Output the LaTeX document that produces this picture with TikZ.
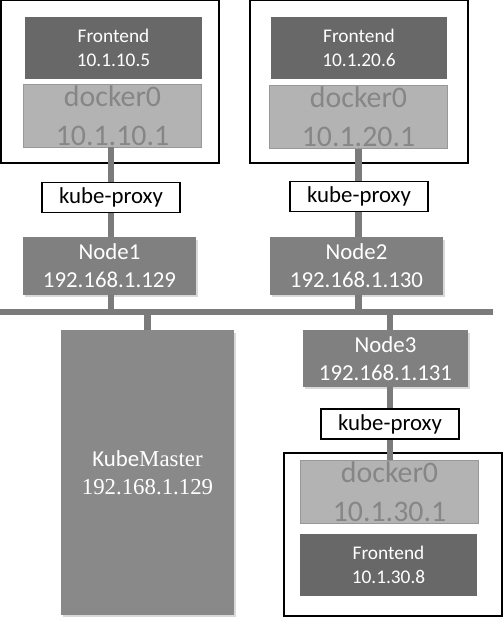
\documentclass[tikz,border=0pt]{standalone}
\usepackage{fontspec}
\setmainfont{Carlito}
\newfontfamily\masterfont{Liberation Serif}
\usetikzlibrary{shadows}
\definecolor{frontgray}{HTML}{686868}
\definecolor{dockergray}{HTML}{B3B3B3}
\definecolor{dockertext}{HTML}{868686}
\definecolor{nodegray}{HTML}{808080}
\definecolor{mastergray}{HTML}{898989}
\definecolor{linkgray}{HTML}{7B7B7B}

\begin{document}
\begin{tikzpicture}[
    x=0.02cm, y=-0.02cm,
    host/.style={draw, line width=0.6pt, inner sep=0pt,
                 minimum width=4.36cm, minimum height=3.26cm},
    front/.style={fill=frontgray, text=white, inner sep=0pt,
                  minimum width=3.54cm, minimum height=1.24cm,
                  align=center, font=\fontsize{11}{14}\selectfont},
    docker/.style={fill=dockergray, draw=dockergray!85!black, line width=0.3pt,
                   text=dockertext, inner sep=0pt,
                   minimum width=3.56cm, minimum height=1.26cm,
                   align=center, font=\fontsize{17}{22}\selectfont},
    proxy/.style={draw, fill=white, line width=0.9pt, inner sep=0pt,
                  minimum width=2.76cm, minimum height=0.6cm,
                  font=\fontsize{13}{15}\selectfont},
    kube/.style={fill=nodegray, text=white, inner sep=0pt,
                 minimum width=3.46cm, minimum height=1.16cm,
                 align=center, font=\fontsize{13}{16}\selectfont,
                 drop shadow={shadow xshift=0.04cm, shadow yshift=-0.05cm,
                              opacity=0.3}},
    link/.style={linkgray, line width=3.8pt},
  ]
  \useasboundingbox (0,0) rectangle (503,622);

  % Host boxes
  \node[host] (host1) at (110,81.5) {};
  \node[host] (host2) at (359,81.5) {};
  \node[host] (host3) at (393,534.5) {};

  % Host 1
  \node[front] (front1) at (113.5,48) {Frontend\\10.1.10.5};
  \node[docker] (dock1) at (112.5,115.5) {docker0\\10.1.10.1};
  \node[proxy] (proxy1) at (111,197.5) {kube-proxy};
  \node[kube] (node1) at (109.5,266) {Node1\\192.168.1.129};

  % Host 2
  \node[front] (front2) at (359,48) {Frontend\\10.1.20.6};
  \node[docker] (dock2) at (358.5,117) {docker0\\10.1.20.1};
  \node[proxy] (proxy2) at (359,196.5) {kube-proxy};
  \node[kube] (node2) at (356.5,266) {Node2\\192.168.1.130};

  % Bus
  \coordinate (busL) at (0,312);
  \coordinate (busR) at (493,312);
  \draw[linkgray, line width=3.2pt] (busL) -- (busR);

  % Master
  \node[kube, fill=mastergray, minimum width=3.46cm, minimum height=5.7cm] (master) at (147.5,472.5)
       {Kube{\masterfont Master}\\{\masterfont 192.168.1.129}};

  % Host 3
  \node[kube, minimum width=3.3cm, minimum height=1.14cm] (node3) at (385.5,358.5)
       {Node3\\192.168.1.131};
  \node[proxy] (proxy3) at (390,424) {kube-proxy};
  \node[docker] (dock3) at (389.5,491.5) {docker0\\10.1.30.1};
  \node[front] (front3) at (388.5,565) {Frontend\\10.1.30.8};

  % Links
  \draw[link] (dock1.south -| proxy1) -- (proxy1.north);
  \draw[link] (proxy1.south) -- (node1.north -| proxy1);
  \draw[link] (node1.south -| proxy1) -- (busL -| proxy1);
  \draw[link] (dock2.south) -- (proxy2.north -| dock2);
  \draw[link] (proxy2.south -| dock2) -- (node2.north -| dock2);
  \draw[link] (node2.south -| dock2) -- (busL -| dock2);
  \draw[link] (busL -| master) -- (master.north);
  \draw[link] (busL -| proxy3) -- (node3.north -| proxy3);
  \draw[link] (node3.south -| proxy3) -- (proxy3.north);
  \draw[link] (proxy3.south) -- (dock3.north -| proxy3);
\end{tikzpicture}
\end{document}
